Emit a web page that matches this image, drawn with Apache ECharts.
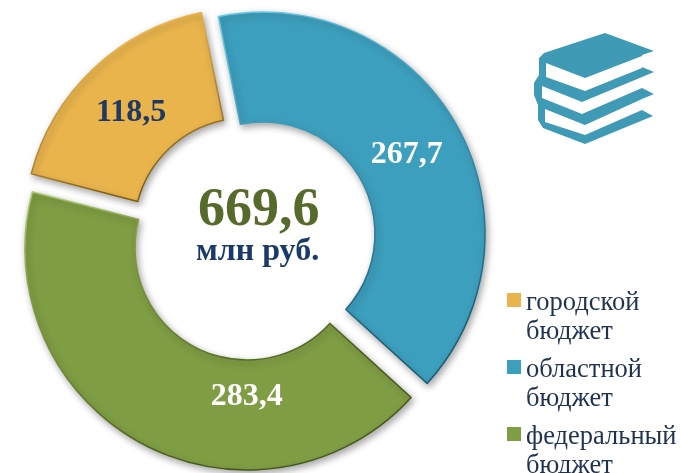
<!DOCTYPE html>
<html><head><meta charset="utf-8">
<style>html,body{margin:0;padding:0;background:#fff}#c{width:681px;height:473px}</style>
<script src="https://cdn.jsdelivr.net/npm/echarts@6/dist/echarts.min.js"></script>
</head><body><div id="c"></div>
<script>
const categories = ['областной\nбюджет', 'федеральный\nбюджет', 'городской\nбюджет'];
const values = [267.7, 283.4, 118.5];
const valueLabels = ['267,7', '283,4', '118,5'];
const legendOrder = ['городской\nбюджет', 'областной\nбюджет', 'федеральный\nбюджет'];
const colors = ['#3c9fbd', '#7f9d43', '#e9b44c'];
const lights = ['#6fcbe6', '#b5d07a', '#f6d488'];
const edges = ['#1a5a72', '#44591b', '#7f5d17'];
const labelColors = ['#ffffff', '#ffffff', '#1f3864'];
const centers = [[263, 234], [247, 248], [246, 230]];
const labelShift = [[-4, 5], [81, -1], [2, 6]];
const firstAngle = 101.6;
const total = values.reduce((a, b) => a + b, 0);
const bookFill = '#3e9ab5';
const bookOutline = [[605,33],[654,51],[642,55],[642,67],[654,72],[642,77],[642,88],[654,94],[642,99],[642,110],[653,116],[585,144],[543,128],[538,120],[538,105],[534,95],[534,83],[539,75],[539,58],[544,53]];
const bookPages = [
  [[546,63],[585,78],[642,56],[642,68],[585,91],[546,77]],
  [[542,86],[582,102],[642,77],[642,88],[582,114],[542,98]],
  [[545,109],[585,125],[642,99],[642,110],[585,135],[545,122]]
];
let acc = 0;
const series = values.map((v, i) => {
  const start = firstAngle - acc / total * 360;
  acc += v;
  return {
    type: 'pie', center: centers[i], radius: [112, 222], startAngle: start, clockwise: true,
    silent: true, avoidLabelOverlap: false,
    labelLine: {show: false},
    labelLayout: {dx: labelShift[i][0], dy: labelShift[i][1]},
    data: [
      {name: categories[i], value: v,
       itemStyle: {color: colors[i],
         borderColor: {type: 'linear', x: 0, y: 0, x2: 0.4, y2: 1, colorStops: [{offset: 0, color: lights[i]}, {offset: 0.3, color: colors[i]}, {offset: 1, color: edges[i]}]},
         borderWidth: 1.5, shadowColor: 'rgba(0,0,0,0.35)', shadowBlur: 7, shadowOffsetX: 2, shadowOffsetY: 3},
       label: {show: true, position: 'inside', formatter: valueLabels[i], color: labelColors[i], fontFamily: 'Liberation Serif', fontWeight: 'bold', fontSize: 32}},
      {name: '', value: total - v, itemStyle: {color: 'transparent', borderWidth: 0, shadowBlur: 0}, label: {show: false}}
    ]
  };
});
const chart = echarts.init(document.getElementById('c'), null, {renderer: 'canvas'});
chart.setOption({
  animation: false,
  color: colors,
  legend: {
    data: legendOrder, orient: 'vertical', left: 507, top: 288, height: 400, padding: 0, itemWidth: 14, itemHeight: 59, itemGap: 8, selectedMode: false,
    icon: 'path://M0 0H14V0Z M0 5H14V19H0Z M0 59H14V59Z',
    itemStyle: {borderWidth: 0, shadowBlur: 0, shadowOffsetX: 0, shadowOffsetY: 0},
    textStyle: {fontFamily: 'Liberation Serif', fontSize: 26.5, color: '#1f3350', lineHeight: 29.5}
  },
  series: series,
  graphic: [
    {type: 'text', left: 198, top: 184, style: {text: '669,6', fontFamily: 'Liberation Serif', fontWeight: 'bold', fontSize: 54, fill: '#566a2c'}},
    {type: 'text', left: 196, top: 236, style: {text: 'млн руб.', fontFamily: 'Liberation Serif', fontWeight: 'bold', fontSize: 32, fill: '#1a3a68'}},
    {type: 'polygon', shape: {points: bookOutline}, style: {fill: bookFill}},
    ...bookPages.map(p => ({type: 'polygon', shape: {points: p}, style: {fill: '#ffffff'}}))
  ]
});
</script></body></html>
